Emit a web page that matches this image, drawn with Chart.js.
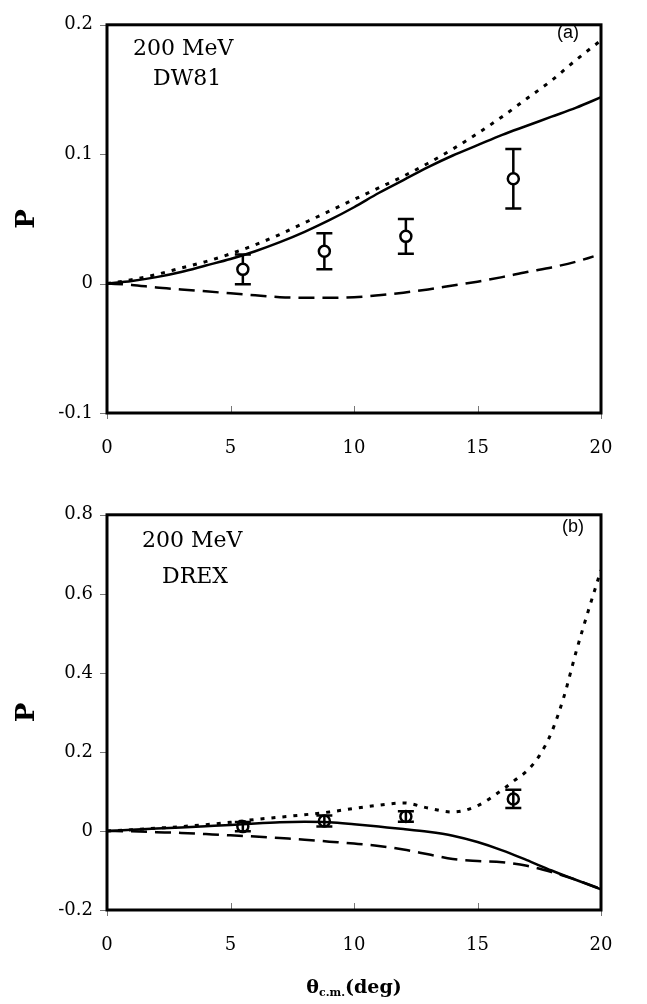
<!DOCTYPE html>
<html>
<head>
<meta charset="utf-8">
<script src="https://cdn.jsdelivr.net/npm/chart.js@4.4.0/dist/chart.umd.min.js"></script>
<style>
  body { margin: 0; background: #fff; }
  #wrap { position: relative; width: 647px; height: 1004px; }
  canvas { position: absolute; left: 0; }
  .note { position: absolute; font: 22px/22px "DejaVu Serif"; white-space: nowrap; color: #000; }
  .tag { position: absolute; font: 18px/18px "Liberation Sans"; color: #000; }
  .xtitle { position: absolute; left: 107px; width: 494px; text-align: center;
            font: bold 19px/19px "DejaVu Serif"; color: #000; }
  .xtitle sub { font-size: 11px; vertical-align: -3px; }
</style>
</head>
<body>
<div id="wrap">
  <canvas id="chartA" width="647" height="470" style="top:0"></canvas>
  <canvas id="chartB" width="647" height="514" style="top:490px"></canvas>

  <div class="note" style="left:133px;top:37px">200 MeV</div>
  <div class="note" style="left:153px;top:67px">DW81</div>
  <div class="tag" style="left:557px;top:23px">(a)</div>

  <div class="note" style="left:142px;top:529px">200 MeV</div>
  <div class="note" style="left:162px;top:565px">DREX</div>
  <div class="tag" style="left:562px;top:517px">(b)</div>

  <div class="xtitle" style="top:977px">θ<sub>c.m.</sub>(deg)</div>
</div>

<script>
// --- data ---
const X_TICKS = [0, 5, 10, 15, 20];
const Y_TICKS_A = [-0.1, 0, 0.1, 0.2];
const Y_TICKS_B = [-0.2, 0, 0.2, 0.4, 0.6, 0.8];

// measured points, same in both panels
const DATA_ANGLES = [5.5, 8.8, 12.1, 16.45];
const DATA_P      = [0.011, 0.025, 0.0365, 0.081];
const DATA_ERR    = [0.0115, 0.014, 0.0135, 0.023];

// panel (a) DW81
const ANGLES_A = [0, 1, 2, 3, 4, 5, 6, 7, 8, 9, 10, 11, 12, 13, 14, 15, 16, 17, 18, 19, 20];
const SOLID_A  = [0, 0.002, 0.005, 0.009, 0.014, 0.019, 0.025, 0.032, 0.040, 0.049, 0.059,
                  0.070, 0.080, 0.090, 0.099, 0.107, 0.115, 0.122, 0.129, 0.136, 0.144];
const DOTTED_A = [0, 0.003, 0.007, 0.012, 0.017, 0.023, 0.030, 0.038, 0.047, 0.056, 0.065,
                  0.074, 0.083, 0.093, 0.104, 0.116, 0.129, 0.143, 0.157, 0.173, 0.188];
const DASHED_A_ANGLES = [0, 1, 2, 3, 4, 5, 6, 7, 8, 9, 10, 11, 12, 13, 14, 15, 16, 17, 18, 19, 19.7];
const DASHED_A = [0, -0.001, -0.003, -0.0045, -0.006, -0.0075, -0.009, -0.0105, -0.011, -0.011, -0.0105,
                  -0.009, -0.007, -0.0045, -0.0015, 0.0015, 0.005, 0.009, 0.0125, 0.017, 0.021];

// panel (b) DREX
const ANGLES_B = [0, 1, 2, 3, 4, 5, 6, 7, 8, 9, 10, 11, 12, 13, 14, 15, 16, 17, 18, 19, 20];
const SOLID_B  = [0, 0.003, 0.006, 0.009, 0.012, 0.015, 0.019, 0.022, 0.023, 0.022, 0.017,
                  0.011, 0.005, -0.002, -0.012, -0.028, -0.049, -0.074, -0.100, -0.124, -0.148];
const DASHED_B = [0, -0.001, -0.003, -0.005, -0.008, -0.011, -0.014, -0.018, -0.022, -0.027, -0.032,
                  -0.038, -0.047, -0.059, -0.071, -0.076, -0.079, -0.088, -0.104, -0.124, -0.147];
const DOTTED_B_ANGLES = [0, 1, 2, 3, 4, 5, 6, 7, 8, 9, 10, 11, 12, 13, 14, 15, 16,
                         16.5, 17, 17.5, 18, 18.5, 19, 19.5, 20];
const DOTTED_B = [0, 0.003, 0.007, 0.011, 0.016, 0.022, 0.029, 0.035, 0.041, 0.048, 0.057,
                  0.065, 0.071, 0.058, 0.048, 0.064, 0.104, 0.128, 0.152, 0.19, 0.25,
                  0.34, 0.455, 0.56, 0.66];

const pts = (xs, ys) => xs.map((x, i) => ({ x, y: ys[i] }));

const serif = "DejaVu Serif";

// box round the plot + small tick marks
const frame = {
  id: 'frame',
  afterDraw(chart) {
    const { ctx, chartArea: a, scales: { x, y } } = chart;
    ctx.save();
    ctx.strokeStyle = '#777';
    ctx.lineWidth = 1;
    ctx.beginPath();
    y.ticks.forEach(t => {
      const py = Math.round(y.getPixelForValue(t.value)) + 0.5;
      ctx.moveTo(a.left - 7, py); ctx.lineTo(a.left, py);
    });
    x.ticks.forEach((t, i) => {
      const px = Math.round(x.getPixelForValue(t.value)) + 0.5;
      const end = (i === 0 || i === x.ticks.length - 1);
      ctx.moveTo(px, a.bottom);
      ctx.lineTo(px, end ? a.bottom + 6 : a.bottom - 7);
    });
    ctx.stroke();
    ctx.strokeStyle = '#000';
    ctx.lineWidth = 3;
    ctx.strokeRect(a.left, a.top, a.right - a.left, a.bottom - a.top);
    ctx.restore();
  }
};

// vertical error bars with caps, under the markers
const errorBars = {
  id: 'errorBars',
  beforeDatasetsDraw(chart) {
    const { ctx, scales: { x, y } } = chart;
    ctx.save();
    ctx.strokeStyle = '#000';
    ctx.lineWidth = 2.5;
    DATA_ANGLES.forEach((ang, i) => {
      const px = x.getPixelForValue(ang);
      const top = y.getPixelForValue(DATA_P[i] + DATA_ERR[i]);
      const bot = y.getPixelForValue(DATA_P[i] - DATA_ERR[i]);
      ctx.beginPath();
      ctx.moveTo(px, top); ctx.lineTo(px, bot);
      ctx.moveTo(px - 8, top); ctx.lineTo(px + 8, top);
      ctx.moveTo(px - 8, bot); ctx.lineTo(px + 8, bot);
      ctx.stroke();
    });
    ctx.restore();
  }
};

function makeChart(id, cfg) {
  const curve = (data, dash, width) => ({
    data, showLine: true, borderColor: '#000', borderWidth: width,
    borderDash: dash, pointRadius: 0, cubicInterpolationMode: 'monotone', fill: false
  });
  return new Chart(document.getElementById(id), {
    type: 'scatter',
    data: {
      datasets: [
        {
          data: pts(DATA_ANGLES, DATA_P),
          pointRadius: 5.5, pointBorderWidth: 2.5,
          pointBorderColor: '#000', pointBackgroundColor: cfg.markerFill,
          showLine: false
        },
        curve(cfg.solid, [], 2.5),
        curve(cfg.dotted, [4, 7], 3),
        curve(cfg.dashed, [16, 8], 2.5)
      ]
    },
    options: {
      responsive: false,
      animation: false,
      layout: { padding: { top: cfg.top, right: 46, left: 0, bottom: 0 } },
      plugins: { legend: { display: false }, tooltip: { enabled: false } },
      scales: {
        x: {
          type: 'linear', min: 0, max: 20,
          afterBuildTicks: s => { s.ticks = X_TICKS.map(v => ({ value: v })); },
          afterFit: s => { s.height = cfg.xHeight; },
          grid: { drawOnChartArea: false, drawTicks: false },
          border: { display: false },
          ticks: { padding: 25, color: '#000', font: { family: serif, size: 18 },
                   callback: v => String(v) }
        },
        y: {
          type: 'linear', min: cfg.yTicks[0], max: cfg.yTicks[cfg.yTicks.length - 1],
          afterBuildTicks: s => { s.ticks = cfg.yTicks.map(v => ({ value: v })); },
          afterFit: s => { s.width = 107; },
          grid: { drawOnChartArea: false, drawTicks: false },
          border: { display: false },
          ticks: { padding: 14, color: '#000', font: { family: serif, size: 18 },
                   callback: v => String(v) },
          title: { display: true, text: 'P', color: '#000',
                   font: { family: serif, size: 26, weight: 'bold' },
                   padding: { top: 12, bottom: 0 } }
        }
      }
    },
    plugins: [errorBars, frame]
  });
}

makeChart('chartA', {
  top: 12, xHeight: 57, yTicks: Y_TICKS_A, markerFill: '#fff',
  solid: pts(ANGLES_A, SOLID_A),
  dotted: pts(ANGLES_A, DOTTED_A),
  dashed: pts(DASHED_A_ANGLES, DASHED_A)
});

makeChart('chartB', {
  top: 16, xHeight: 94, yTicks: Y_TICKS_B, markerFill: 'rgba(0,0,0,0)',
  solid: pts(ANGLES_B, SOLID_B),
  dotted: pts(DOTTED_B_ANGLES, DOTTED_B),
  dashed: pts(ANGLES_B, DASHED_B)
});
</script>
</body>
</html>
